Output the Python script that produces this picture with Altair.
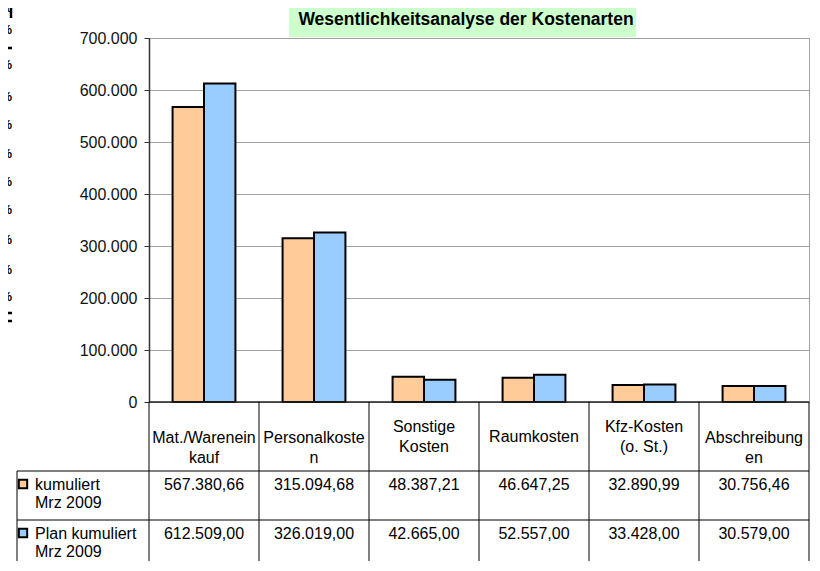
import altair as alt
import pandas as pd

# ---------------- data ----------------
title = "Wesentlichkeitsanalyse der Kostenarten"
categories = ["Mat./Wareneinkauf", "Personalkosten", "Sonstige Kosten",
              "Raumkosten", "Kfz-Kosten (o. St.)", "Abschreibungen"]
header_lines = [["Mat./Warenein", "kauf"], ["Personalkoste", "n"], ["Sonstige", "Kosten"],
                ["Raumkosten"], ["Kfz-Kosten", "(o. St.)"], ["Abschreibung", "en"]]
series = ["kumuliert Mrz 2009", "Plan kumuliert Mrz 2009"]
legend_lines = [["kumuliert", "Mrz 2009"], ["Plan kumuliert", "Mrz 2009"]]
kumuliert = [567380.66, 315094.68, 48387.21, 46647.25, 32890.99, 30756.46]
plan = [612509.00, 326019.00, 42665.00, 52557.00, 33428.00, 30579.00]
y_ticks = [0, 100000, 200000, 300000, 400000, 500000, 600000, 700000]
pct_marks = ["%"] * 11

colors = ["#FFCC99", "#99CCFF"]

# ---------------- layout (pixels, plot-area coordinates) ----------------
W, H = 660, 364
PAD = {"left": 141, "top": 30, "right": 3, "bottom": 159}
TABLE_BOTTOM = H + PAD["bottom"]
HEADER_BOTTOM = 433
ROW1_BOTTOM = 482
LEG_LEFT = -132
FONT = "Liberation Sans"
FS = 16

bars = pd.DataFrame({
    "Kostenart": categories * 2,
    "Serie": [series[0]] * 6 + [series[1]] * 6,
    "Wert": kumuliert + plan,
})

xscale = alt.Scale(domain=categories, paddingInner=0, paddingOuter=0)
X = alt.X("Kostenart:N", scale=xscale, axis=None, sort=categories)

bar_layer = alt.Chart(bars).mark_bar(stroke="black", strokeWidth=2).encode(
    x=X,
    xOffset=alt.XOffset("Serie:N", sort=series,
                        scale=alt.Scale(domain=series, paddingInner=0, paddingOuter=0.75)),
    y=alt.Y("Wert:Q", title=None,
            scale=alt.Scale(domain=[0, 700000], nice=False),
            axis=alt.Axis(values=y_ticks, format=",.0f", grid=True, gridColor="#a0a0a0",
                          gridWidth=1, domainColor="#333333", domainWidth=1.5,
                          tickColor="#333333", tickSize=5, labelPadding=7,
                          labelFontSize=FS, labelColor="#111111", labelFont=FONT)),
    color=alt.Color("Serie:N", scale=alt.Scale(domain=series, range=colors), legend=None),
)

# title box + text
tdf = pd.DataFrame({"t": [title]})
title_box = alt.Chart(tdf).mark_rect(fill="#CCFFCC").encode(
    x=alt.value(140), x2=alt.value(487), y=alt.value(-35), y2=alt.value(-1))
title_text = alt.Chart(tdf).mark_text(fontWeight="bold", fontSize=17.5, font=FONT,
                                      baseline="middle", align="center", color="black").encode(
    x=alt.value(317), y=alt.value(-18), text="t:N")

# x-axis baseline
axis_line = alt.Chart(tdf).mark_rule(color="#222222", strokeWidth=1.5).encode(
    x=alt.value(0), x2=alt.value(W), y=alt.value(H))

# table vertical lines
cat_df = pd.DataFrame({"Kostenart": categories})
vlines = alt.Chart(cat_df).mark_rule(color="black", strokeWidth=1).encode(
    x=alt.X("Kostenart:N", scale=xscale, axis=None, sort=categories, bandPosition=0),
    y=alt.value(H), y2=alt.value(TABLE_BOTTOM))
right_line = alt.Chart(tdf).mark_rule(color="black", strokeWidth=1).encode(
    x=alt.value(W), y=alt.value(H), y2=alt.value(TABLE_BOTTOM))
left_line = alt.Chart(tdf).mark_rule(color="black", strokeWidth=1).encode(
    x=alt.value(LEG_LEFT), y=alt.value(HEADER_BOTTOM), y2=alt.value(TABLE_BOTTOM))
hlines = alt.Chart(pd.DataFrame({"yy": [HEADER_BOTTOM, ROW1_BOTTOM]})).mark_rule(
    color="black", strokeWidth=1).encode(
    x=alt.value(LEG_LEFT), x2=alt.value(W), y=alt.Y("yy:Q", scale=None, axis=None))

# header labels
hrows = []
header_center = (H + HEADER_BOTTOM) / 2
line_h = 20
for cat, lines in zip(categories, header_lines):
    n = len(lines)
    broken = n > 1 and lines[1][0].islower()
    shift = 11 if broken else 0
    for i, ln in enumerate(lines):
        hrows.append({"Kostenart": cat, "txt": ln,
                      "yy": header_center + (i - (n - 1) / 2) * line_h + shift})
header_text = alt.Chart(pd.DataFrame(hrows)).mark_text(
    fontSize=FS, font=FONT, align="center", baseline="middle", color="black").encode(
    x=X, y=alt.Y("yy:Q", scale=None, axis=None), text="txt:N")

# values rows
row_tops = [HEADER_BOTTOM, ROW1_BOTTOM]
vrows = []
for s_idx, vals in enumerate([kumuliert, plan]):
    for cat, v in zip(categories, vals):
        vrows.append({"Kostenart": cat, "Wert": v, "yy": row_tops[s_idx] + 14})
value_text = alt.Chart(pd.DataFrame(vrows)).mark_text(
    fontSize=FS, font=FONT, align="center", baseline="middle", color="black").encode(
    x=X, y=alt.Y("yy:Q", scale=None, axis=None), text=alt.Text("Wert:Q", format=",.2f"))

# legend column
lrows, srows = [], []
for s_idx, lines in enumerate(legend_lines):
    srows.append({"Serie": series[s_idx], "yy": row_tops[s_idx] + 13})
    for i, ln in enumerate(lines):
        lrows.append({"txt": ln, "yy": row_tops[s_idx] + 14 + i * 18})
legend_text = alt.Chart(pd.DataFrame(lrows)).mark_text(
    fontSize=FS, font=FONT, align="left", baseline="middle", color="black").encode(
    x=alt.value(-114), y=alt.Y("yy:Q", scale=None, axis=None), text="txt:N")
legend_sq = alt.Chart(pd.DataFrame(srows)).mark_square(
    size=70, stroke="black", strokeWidth=2, opacity=1).encode(
    x=alt.value(-126), y=alt.Y("yy:Q", scale=None, axis=None),
    fill=alt.Fill("Serie:N", scale=alt.Scale(domain=series, range=colors), legend=None))

# clipped "%" fragments at the far left (from a neighbouring sheet element)
pct_y = [-30, -8, 27, 59, 87, 116, 144, 172, 202, 232, 259]
pct_df = pd.DataFrame({"txt": pct_marks, "yy": pct_y})
pct_text = alt.Chart(pct_df).mark_text(
    fontSize=13, font=FONT, fontWeight="bold", align="right", baseline="middle",
    color="black").encode(
    x=alt.value(-137), y=alt.Y("yy:Q", scale=None, axis=None), text="txt:N")
pct_lines = alt.Chart(pd.DataFrame({"yy": [10, 275, 283]})).mark_rule(
    color="black", strokeWidth=2.5).encode(
    x=alt.value(-150), x2=alt.value(-137), y=alt.Y("yy:Q", scale=None, axis=None))
pct_box = alt.Chart(tdf).mark_rule(color="black", strokeWidth=2.5).encode(
    x=alt.value(-138), y=alt.value(-40), y2=alt.value(-20))

chart = alt.layer(
    title_box, title_text, bar_layer, axis_line, vlines, right_line, left_line, hlines,
    header_text, value_text, legend_text, legend_sq, pct_text, pct_lines, pct_box,
).properties(
    width=W, height=H,
    autosize=alt.AutoSizeParams(type="none"),
    padding=PAD,
).configure(
    font=FONT,
    locale={"number": {"decimal": ",", "thousands": ".", "grouping": [3],
                       "currency": ["", " €"]}},
).configure_view(stroke="#a0a0a0", strokeWidth=1)

chart.save("out.html", embed_options={"renderer": "svg", "actions": False})
